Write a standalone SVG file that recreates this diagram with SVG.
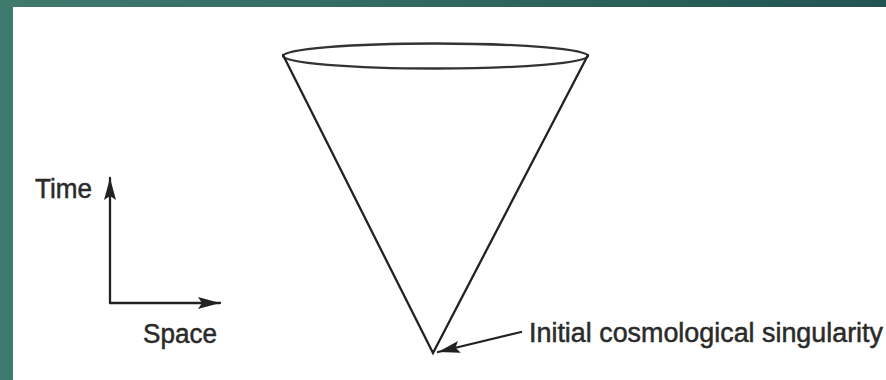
<svg xmlns="http://www.w3.org/2000/svg" width="886" height="380" viewBox="0 0 886 380">
  <defs>
    <linearGradient id="band" x1="0" y1="0" x2="1" y2="0">
      <stop offset="0" stop-color="#3f7a6f"/>
      <stop offset="1" stop-color="#225451"/>
    </linearGradient>
    <marker id="bighead" markerWidth="22" markerHeight="12" refX="22" refY="6" orient="auto" markerUnits="userSpaceOnUse" viewBox="0 0 22 12">
      <path d="M0,0 L22,6 L0,12 L4,6 Z" fill="#222"/>
    </marker>
  </defs>
  <style>
    .lbl { font-family: "Liberation Sans", Arial, Helvetica, sans-serif; font-size: 27px; fill: #2a2a2a; stroke: #2a2a2a; stroke-width: 0.5; }
    .ln { stroke: #222; stroke-width: 2.3; fill: none; stroke-linecap: round; }
  </style>
  <rect x="0" y="0" width="886" height="380" fill="#ffffff"/>
  <rect x="0" y="0" width="886" height="7" fill="url(#band)"/>
  <rect x="0" y="0" width="13" height="380" fill="#3f7a6f"/>

  <g id="cone">
    <ellipse cx="435.5" cy="56" rx="152.5" ry="12.5" fill="none" stroke="#333" stroke-width="2.3"/>
    <path class="ln" d="M283,55 L433,353 L588,55"/>
  </g>

  <g id="time-label">
    <text class="lbl" x="35" y="198" textLength="57" lengthAdjust="spacingAndGlyphs">Time</text>
  </g>
  <g id="space-label">
    <text class="lbl" x="143" y="343" textLength="74" lengthAdjust="spacingAndGlyphs">Space</text>
  </g>
  <g id="singularity-label">
    <text class="lbl" x="529" y="342" textLength="354" lengthAdjust="spacingAndGlyphs">Initial cosmological singularity</text>
  </g>

  <g id="connectors">
    <path class="ln" d="M110,303 L110,178" marker-end="url(#bighead)"/>
    <path class="ln" d="M110,303 L220,303" marker-end="url(#bighead)"/>
    <path class="ln" d="M521,332 L438,352" marker-end="url(#bighead)"/>
  </g>
</svg>
